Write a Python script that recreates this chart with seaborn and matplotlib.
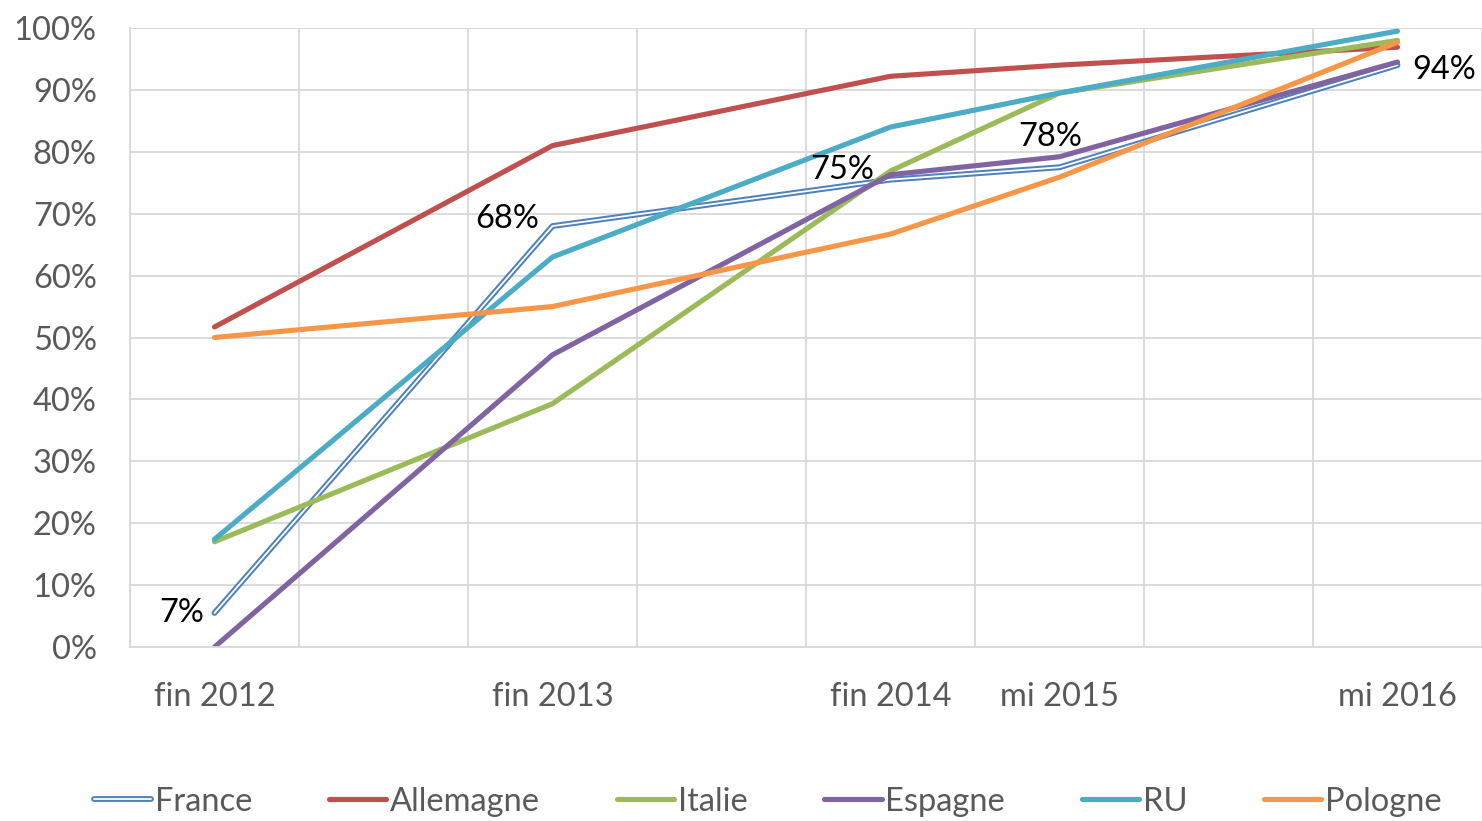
import matplotlib
matplotlib.use('Agg')
import matplotlib.pyplot as plt
import matplotlib.patheffects as pe
import numpy as np
import pandas as pd
import seaborn as sns

# category slots: labels only on some of them
slot_labels = ['fin 2012', '', 'fin 2013', '', 'fin 2014', 'mi 2015', '', 'mi 2016']
periods = ['fin 2012', 'fin 2013', 'fin 2014', 'mi 2015', 'mi 2016']

france = [5.5, 68, 75.5, 77.5, 94]
allemagne = [51.7, 81, 92.2, 94, 96.9]
italie = [17, 39.3, 76.9, 89.5, 98]
espagne = [0, 47.2, 76.3, 79.2, 94.5]
ru = [17.4, 63, 84, 89.5, 99.5]
pologne = [50, 55, 66.7, 75.9, 97.7]

series = ['France', 'Allemagne', 'Italie', 'Espagne', 'RU', 'Pologne']
colors = ['#4F81BD', '#C0504D', '#9BBB59', '#8064A2', '#4BACC6', '#F79646']

# data labels on the France series
france_labels = ['7%', '68%', '75%', '78%', '94%']

sns.set_style('white')
plt.rcParams['font.family'] = ['Lato', 'DejaVu Sans']
FS = 23.5

fig = plt.figure(figsize=(14.82, 8.21), dpi=100)
ax = fig.add_axes([130 / 1482, 1 - 647 / 821, 1352 / 1482, 619 / 821])

xpos = [slot_labels.index(p) for p in periods]
df = pd.DataFrame({'x': xpos * 6,
                   'val': france + allemagne + italie + espagne + ru + pologne,
                   'pays': np.repeat(series, len(periods))})

for name, col in zip(series, colors):
    sub = df[df['pays'] == name]
    if name == 'France':
        sns.lineplot(data=sub, x='x', y='val', color='white', lw=1.3, ax=ax,
                     label=name, solid_capstyle='round', solid_joinstyle='round',
                     path_effects=[pe.Stroke(linewidth=4.2, foreground=col,
                                             capstyle='round', joinstyle='round'),
                                   pe.Normal()])
    else:
        sns.lineplot(data=sub, x='x', y='val', color=col, lw=3.7, ax=ax,
                     label=name, solid_capstyle='round', solid_joinstyle='round')

# data labels (offsets in pixels)
offsets = [(-10, 0, 'right', 'center'), (-13, 7, 'right', 'center'),
           (-16, 10, 'right', 'center'), (-9, 30, 'center', 'center'),
           (15, -5, 'left', 'center')]
for xi, yi, txt, (dx, dy, ha, va) in zip(xpos, france, france_labels, offsets):
    ax.annotate(txt, (xi, yi), xytext=(dx, dy), textcoords='offset pixels',
                ha=ha, va=va, fontsize=FS, color='black')

ax.set_xlim(-0.5, 7.5)
ax.set_ylim(0, 100)
ax.set_yticks(np.arange(0, 101, 10))
ax.set_yticklabels([f'{v}%' for v in range(0, 101, 10)])
ax.set_xticks(range(len(slot_labels)))
ax.set_xticklabels(slot_labels)
ax.set_xticks(np.arange(-0.5, 8, 1), minor=True)
ax.grid(True, which='minor', axis='x', color='#D9D9D9', lw=1.3)
ax.grid(True, which='major', axis='y', color='#D9D9D9', lw=1.3)
ax.tick_params(which='both', length=0)
ax.tick_params(axis='y', labelsize=FS, labelcolor='#595959', pad=24)
ax.tick_params(axis='x', labelsize=FS, labelcolor='#595959', pad=25)
ax.set_xlabel('')
ax.set_ylabel('')
for s in ['top', 'right']:
    ax.spines[s].set_visible(False)
for s in ['left', 'bottom']:
    ax.spines[s].set_color('#D9D9D9')
    ax.spines[s].set_linewidth(1.3)
ax.set_axisbelow(True)

ax.legend(loc='center', bbox_to_anchor=((768 - 130) / 1352, -0.25),
          ncol=6, frameon=False, fontsize=FS, labelcolor='#595959',
          handlelength=1.75, handletextpad=0.12, columnspacing=2.35)

fig.savefig('out.png', dpi=100)
